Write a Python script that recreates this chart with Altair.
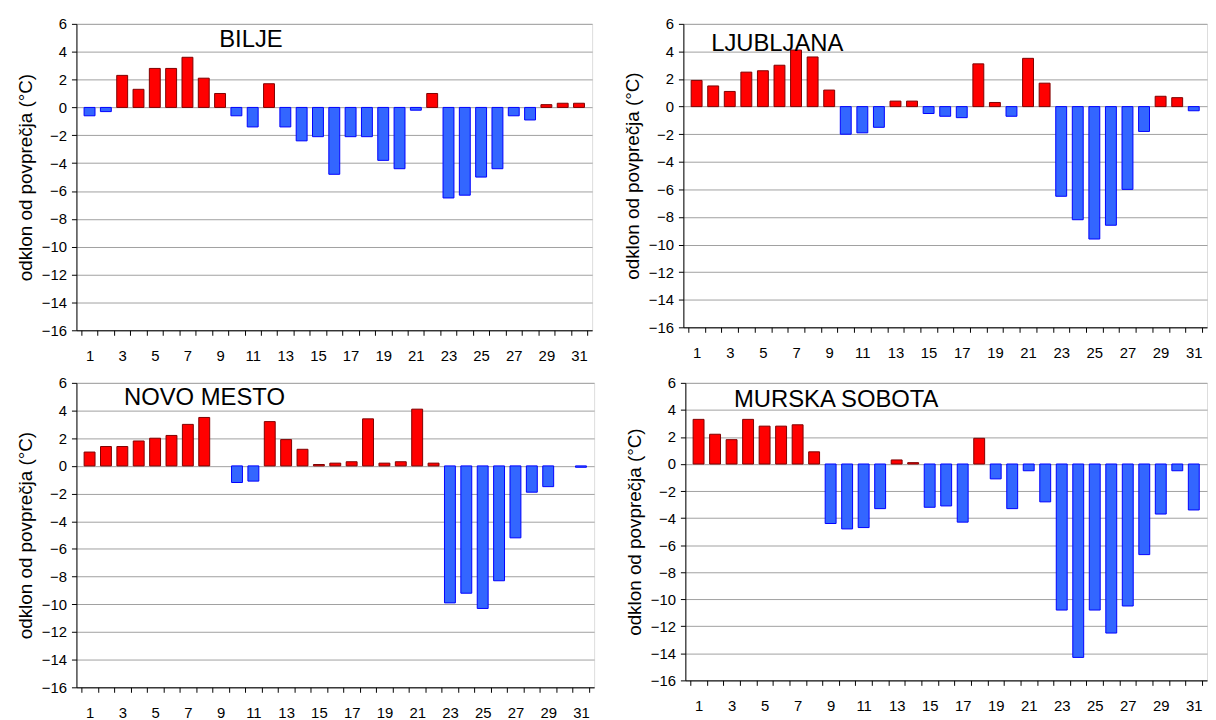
import altair as alt
import pandas as pd
import numpy as np

days = list(range(1, 32))

bilje = [-0.6, -0.3, 2.3, 1.3, 2.8, 2.8, 3.6, 2.1, 1.0, -0.6,
         -1.4, 1.7, -1.4, -2.4, -2.1, -4.8, -2.1, -2.1, -3.8, -4.4,
         -0.2, 1.0, -6.5, -6.3, -5.0, -4.4, -0.6, -0.9, 0.2, 0.3, 0.3]

ljubljana = [1.9, 1.5, 1.1, 2.5, 2.6, 3.0, 4.1, 3.6, 1.2, -2.0,
             -1.9, -1.5, 0.4, 0.4, -0.5, -0.7, -0.8, 3.1, 0.3, -0.7,
             3.5, 1.7, -6.5, -8.2, -9.6, -8.6, -6.0, -1.8, 0.75, 0.65, -0.3]

novo_mesto = [1.0, 1.4, 1.4, 1.8, 2.0, 2.2, 3.0, 3.5, None, -1.2,
              -1.1, 3.2, 1.9, 1.2, 0.1, 0.2, 0.3, 3.4, 0.2, 0.3,
              4.1, 0.2, -9.9, -9.2, -10.3, -8.3, -5.2, -1.9, -1.5, None, -0.1]

murska_sobota = [3.3, 2.2, 1.8, 3.3, 2.8, 2.8, 2.9, 0.9, -4.4, -4.8,
                 -4.7, -3.3, 0.3, 0.1, -3.2, -3.1, -4.3, 1.9, -1.1, -3.3,
                 -0.5, -2.8, -10.8, -14.3, -10.8, -12.5, -10.5, -6.7, -3.7, -0.5, -3.4]

y_ticks = list(range(-16, 7, 2))
x_ticks = [i / 2 for i in range(1, 64)]  # boundaries (x.5) and day centres

FONT = "Liberation Sans"
Y_TITLE = "odklon od povprečja (°C)"


def panel(name, values, w, h, tx, ty):
    df = pd.DataFrame({"day": days, "value": values})
    df["sign"] = np.where(df["value"].fillna(0) >= 0, "pos", "neg")
    bars = alt.Chart(df).mark_bar(size=11, strokeWidth=1).encode(
        x=alt.X(
            "day:Q",
            scale=alt.Scale(domain=[0.5, 31.5], nice=False, zero=False),
            axis=alt.Axis(
                values=x_ticks,
                labelExpr="datum.value % 2 == 1 ? format(datum.value, 'd') : ''",
                labelOverlap=False,
                labelFlush=False,
                tickColor={"condition": {"test": "datum.value % 1 == 0", "value": "transparent"},
                           "value": "black"},
                tickSize=5,
                labelPadding=13,
                labelFontSize=15,
                labelFont=FONT,
                labelColor="black",
                domainColor="black",
                grid=False,
                title=None,
            ),
        ),
        y=alt.Y(
            "value:Q",
            scale=alt.Scale(domain=[-16, 6], nice=False),
            axis=alt.Axis(
                values=y_ticks,
                grid=True,
                gridColor="#a0a0a0",
                gridWidth=1,
                tickColor="black",
                tickSize=5,
                labelPadding=5,
                labelFontSize=15,
                labelFont=FONT,
                labelColor="black",
                domainColor="black",
                title=Y_TITLE,
                titleFont=FONT,
                titleFontSize=19,
                titleFontWeight="normal",
                titleColor="black",
                titlePadding=6,
            ),
        ),
        color=alt.Color("sign:N", scale=alt.Scale(domain=["pos", "neg"], range=["#ff0000", "#3366ff"]),
                        legend=None),
        stroke=alt.Stroke("sign:N", scale=alt.Scale(domain=["pos", "neg"], range=["#800000", "#0000ff"]),
                          legend=None),
    )
    label = alt.Chart(pd.DataFrame({"t": [name]})).mark_text(
        align="left", baseline="alphabetic", fontSize=24, font=FONT, color="black"
    ).encode(x=alt.value(tx), y=alt.value(ty), text="t:N")
    return alt.layer(bars, label).properties(width=w, height=h)


c1 = panel("BILJE", bilje, 520, 309, 144, 23)
c2 = panel("LJUBLJANA", ljubljana, 528, 306, 28, 27)
c3 = panel("NOVO MESTO", novo_mesto, 522, 307, 48, 22)
c4 = panel("MURSKA SOBOTA", murska_sobota, 526, 300, 49, 24)

chart = alt.vconcat(
    alt.hconcat(c1, c2, spacing=30),
    alt.hconcat(c3, c4, spacing=30),
    spacing=11,
).properties(
    padding={"left": 8, "top": 5, "right": 0, "bottom": 0}
).configure_view(
    stroke="#808080", strokeWidth=1
).configure(background="white")

chart.save("out.html", embed_options={"renderer": "svg", "actions": False})
